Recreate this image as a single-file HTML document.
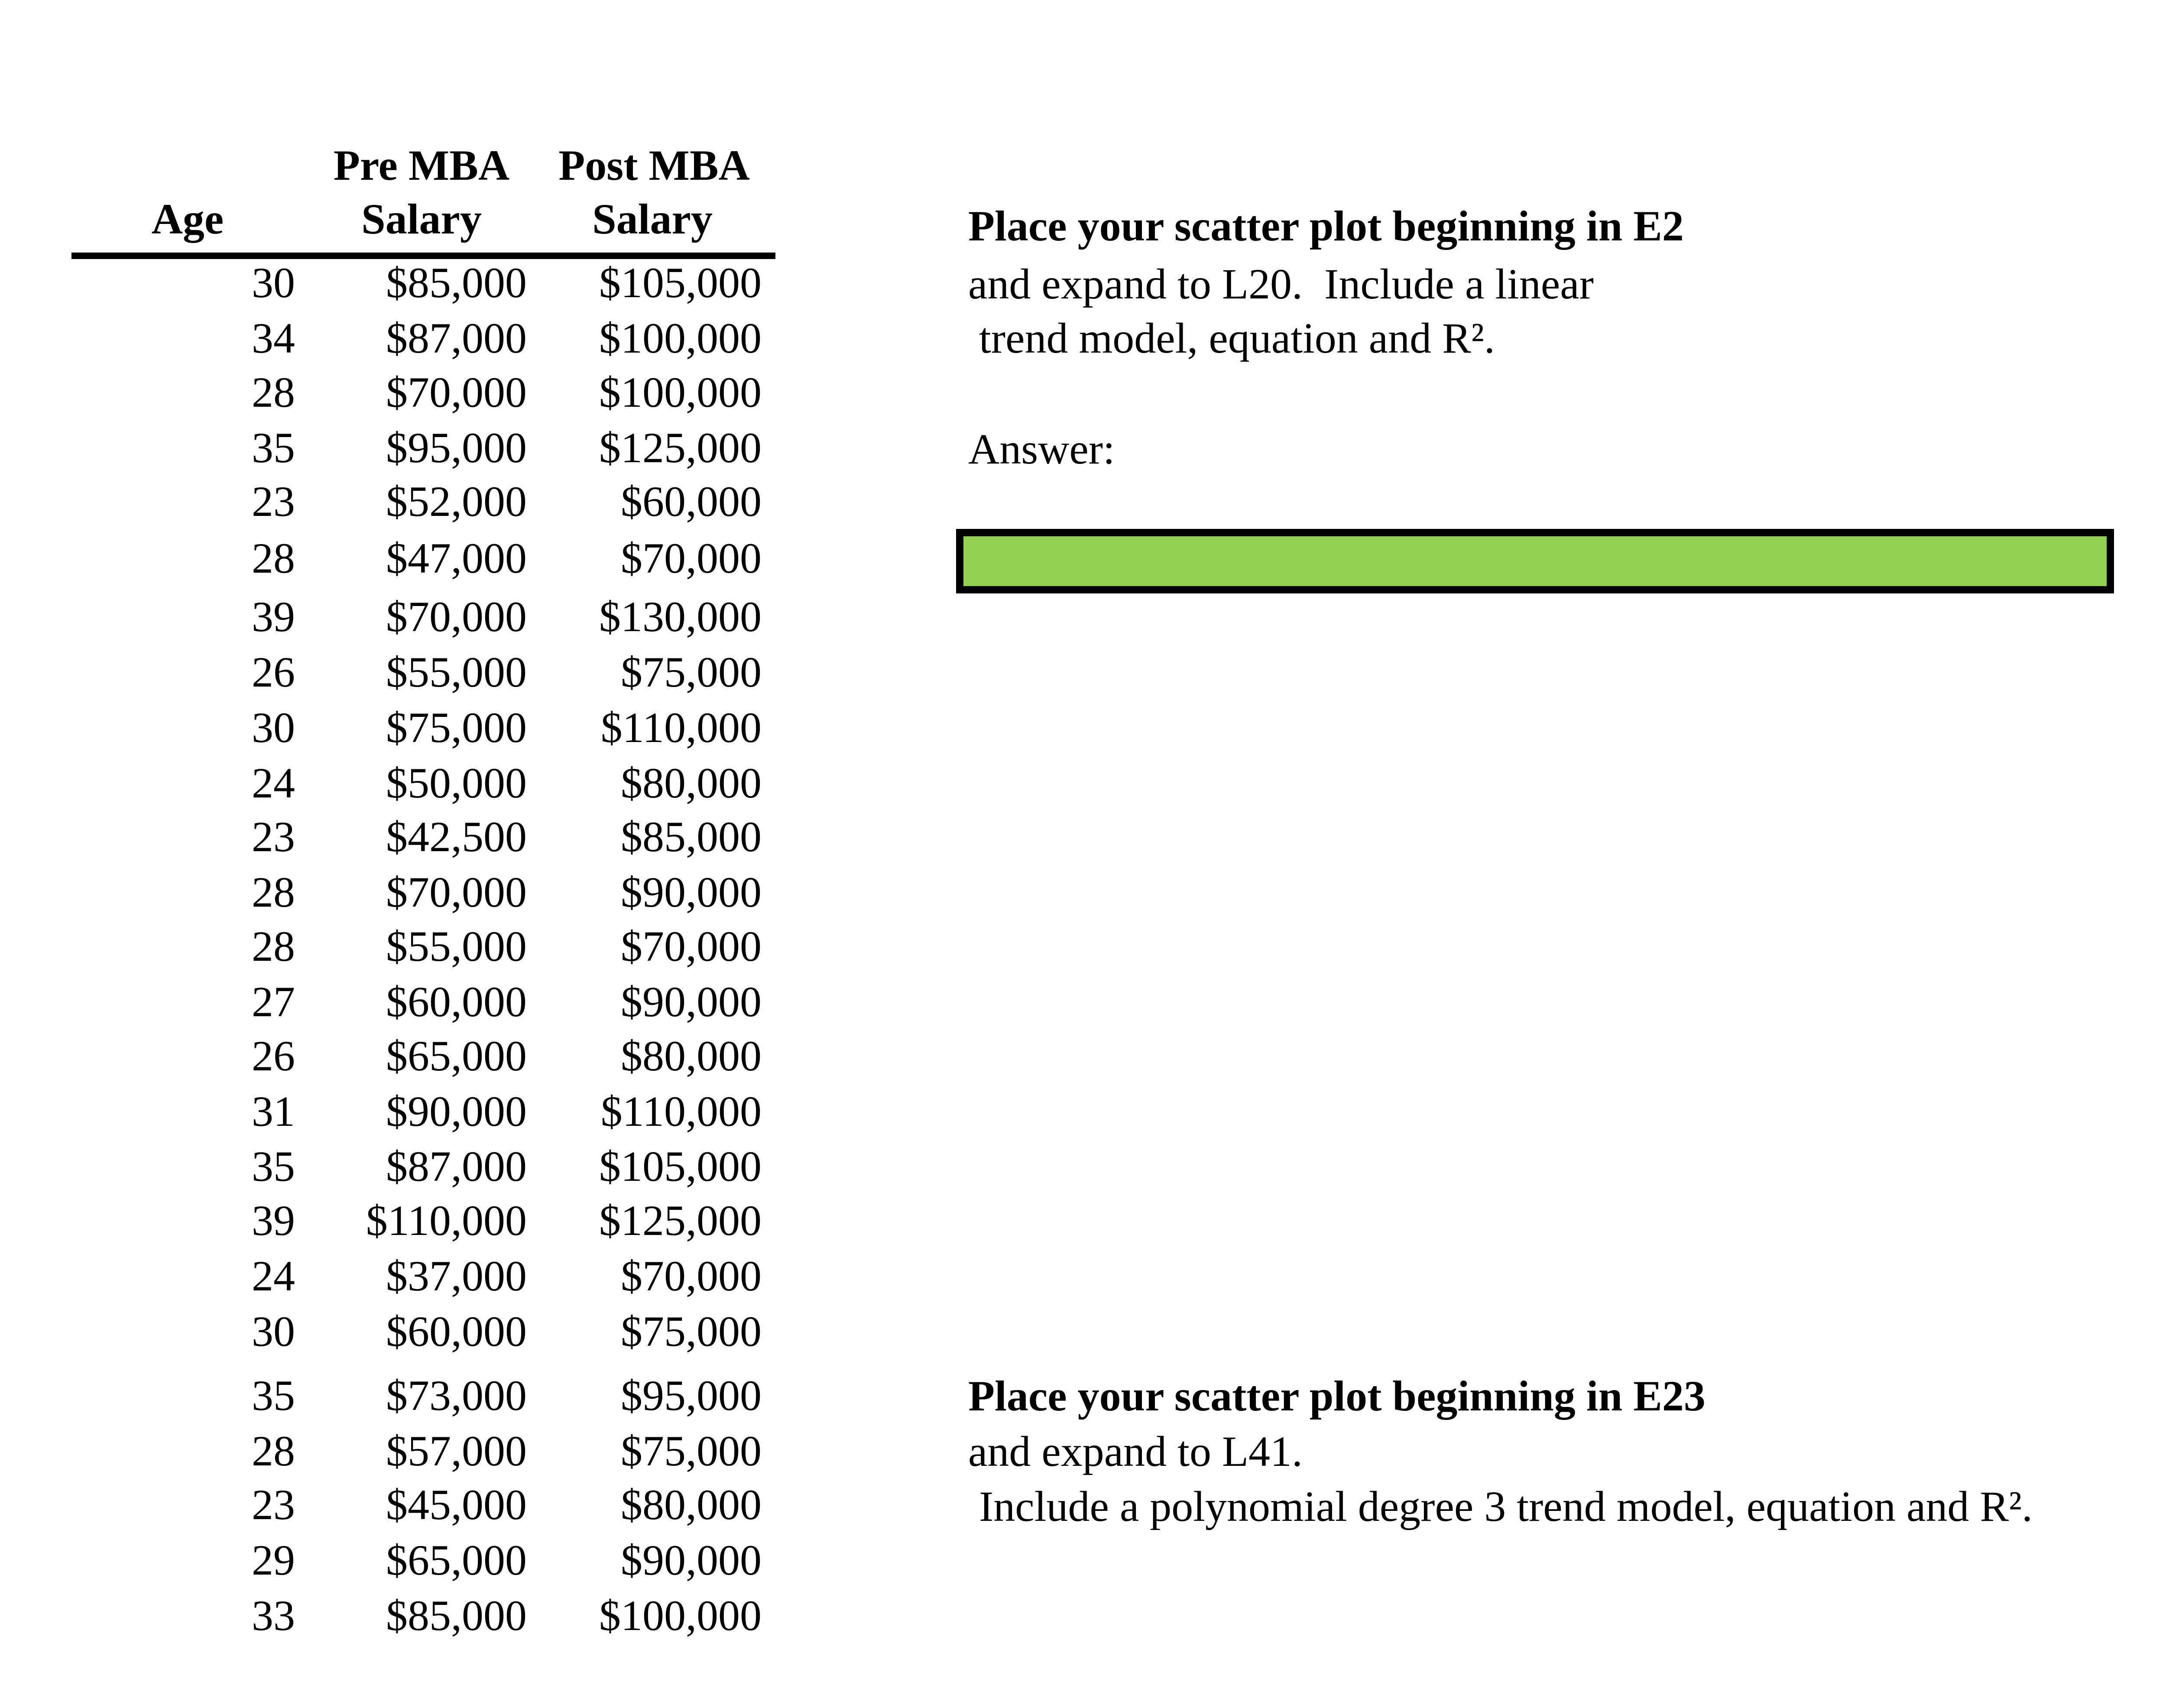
<!DOCTYPE html>
<html><head><meta charset="utf-8"><style>
html,body{margin:0;padding:0;background:#fff;}
body{width:5148px;height:3943px;position:relative;overflow:hidden;font-family:"Liberation Serif",serif;font-size:100px;color:#000;}
.t{position:absolute;line-height:100px;white-space:pre;}
.r{text-align:right;}
.b{font-weight:bold;}
.c{transform:translateX(-50%);}
</style></head><body>
<div class="t b c" style="left:973px;top:332px">Pre MBA</div>
<div class="t b c" style="left:1510px;top:332px">Post MBA</div>
<div class="t b c" style="left:433px;top:456px">Age</div>
<div class="t b c" style="left:973px;top:456px">Salary</div>
<div class="t b c" style="left:1506px;top:456px">Salary</div>
<div style="position:absolute;left:165px;top:583px;width:1625px;height:15px;background:#000"></div>

<div style="position:absolute;left:2207px;top:1221px;width:2639px;height:115px;border:17px solid #000;background:#92D050"></div>

<div class="t b" style="left:2235px;top:472px">Place your scatter plot beginning in E2</div>
<div class="t" style="left:2235px;top:606px">and expand to L20.  Include a linear</div>
<div class="t" style="left:2235px;top:731px"> trend model, equation and R².</div>
<div class="t" style="left:2235px;top:987px">Answer:</div>
<div class="t b" style="left:2235px;top:3173px">Place your scatter plot beginning in E23</div>
<div class="t" style="left:2235px;top:3301px">and expand to L41.</div>
<div class="t" style="left:2235px;top:3428px"> Include a polynomial degree 3 trend model, equation and R².</div>

<div id="rows"></div>
<script>
var d=[[30,"$85,000","$105,000",687],[34,"$87,000","$100,000",815],[28,"$70,000","$100,000",940],[35,"$95,000","$125,000",1068],[23,"$52,000","$60,000",1192],[28,"$47,000","$70,000",1323],[39,"$70,000","$130,000",1458],[26,"$55,000","$75,000",1586],[30,"$75,000","$110,000",1714],[24,"$50,000","$80,000",1842],[23,"$42,500","$85,000",1966],[28,"$70,000","$90,000",2094],[28,"$55,000","$70,000",2219],[27,"$60,000","$90,000",2347],[26,"$65,000","$80,000",2472],[31,"$90,000","$110,000",2600],[35,"$87,000","$105,000",2727],[39,"$110,000","$125,000",2852],[24,"$37,000","$70,000",2980],[30,"$60,000","$75,000",3108],[35,"$73,000","$95,000",3256],[28,"$57,000","$75,000",3384],[23,"$45,000","$80,000",3508],[29,"$65,000","$90,000",3636],[33,"$85,000","$100,000",3764]];
var h="";
d.forEach(function(r){var t=r[3]-84;
h+='<div class="t r" style="right:'+(5148-681)+'px;top:'+t+'px">'+r[0]+'</div>';
h+='<div class="t r" style="right:'+(5148-1216)+'px;top:'+t+'px">'+r[1]+'</div>';
h+='<div class="t r" style="right:'+(5148-1758)+'px;top:'+t+'px">'+r[2]+'</div>';});
document.getElementById("rows").innerHTML=h;
</script>
</body></html>
